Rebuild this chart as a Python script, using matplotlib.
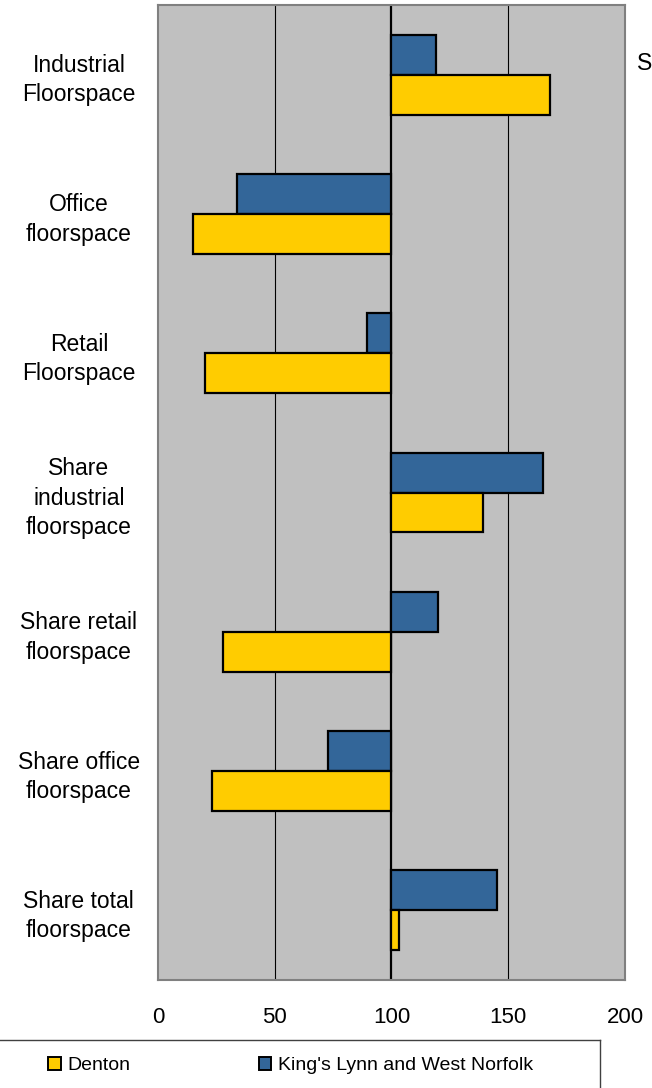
import matplotlib
matplotlib.use("Agg")
import matplotlib.pyplot as plt
import matplotlib.patches
import numpy as np

categories = [
    "Industrial\nFloorspace",
    "Office\nfloorspace",
    "Retail\nFloorspace",
    "Share\nindustrial\nfloorspace",
    "Share retail\nfloorspace",
    "Share office\nfloorspace",
    "Share total\nfloorspace",
]
denton = [168, 15, 20, 139, 28, 23, 103]
kings_lynn = [119, 34, 89.5, 165, 120, 73, 145]
x_ticks = [0, 50, 100, 150, 200]

BASE = 100
YELLOW = "#FFCC00"
BLUE = "#336699"

plt.rcParams["font.family"] = ["Liberation Sans", "DejaVu Sans"]

fig = plt.figure(figsize=(6.52, 10.88), dpi=100)
ax = fig.add_axes([158 / 652, 1 - 980 / 1088, (625 - 158) / 652, 975 / 1088])

ax.set_facecolor("#C0C0C0")
for s in ax.spines.values():
    s.set_color("#808080")
    s.set_linewidth(1.5)

pos = np.arange(len(categories))
h = 0.287
ax.barh(pos - h / 2, np.array(kings_lynn) - BASE, left=BASE, height=h,
        color=BLUE, edgecolor="black", linewidth=1.6, zorder=3)
ax.barh(pos + h / 2, np.array(denton) - BASE, left=BASE, height=h,
        color=YELLOW, edgecolor="black", linewidth=1.6, zorder=3)

for v in [50, 150]:
    ax.axvline(v, color="black", linewidth=0.8, zorder=1)
ax.axvline(BASE, color="black", linewidth=1.6, zorder=2)

ax.set_xlim(0, 200)
ax.set_ylim(len(categories) - 0.5, -0.5)
ax.set_xticks(x_ticks)
ax.set_yticks(pos)
ax.set_yticklabels(categories, ha="center", multialignment="center",
                   linespacing=1.35, fontsize=16.5)
ax.tick_params(axis="y", length=0, pad=57)
ax.tick_params(axis="x", length=0, pad=19.5, labelsize=16)

handles = [
    matplotlib.patches.Patch(facecolor=YELLOW, edgecolor="black", linewidth=1.4),
    matplotlib.patches.Patch(facecolor=BLUE, edgecolor="black", linewidth=1.4),
]
# legend box sits at the bottom, cut by the figure edge
lax = fig.add_axes([-0.01, -0.02, 600 / 652 + 0.01, (1088 - 1040) / 1088 + 0.02])
lax.set_xlim(0, 1)
lax.set_ylim(0, 1)
lax.set_xticks([])
lax.set_yticks([])
lax.set_facecolor("white")
for s in lax.spines.values():
    s.set_color("#404040")
    s.set_linewidth(1.0)
lax.legend(handles, ["Denton", "King's Lynn and West Norfolk"], ncol=2,
           frameon=False, fontsize=14, handlelength=0.65, handleheight=0.65,
           handletextpad=0.35, columnspacing=6.6, borderpad=0, borderaxespad=0,
           loc="center left", bbox_to_anchor=(0.09, 0.63))

fig.text(637 / 652, 1 - 63 / 1088, "S", fontsize=16.5, va="center", ha="left")

fig.savefig("out.png", dpi=100)
